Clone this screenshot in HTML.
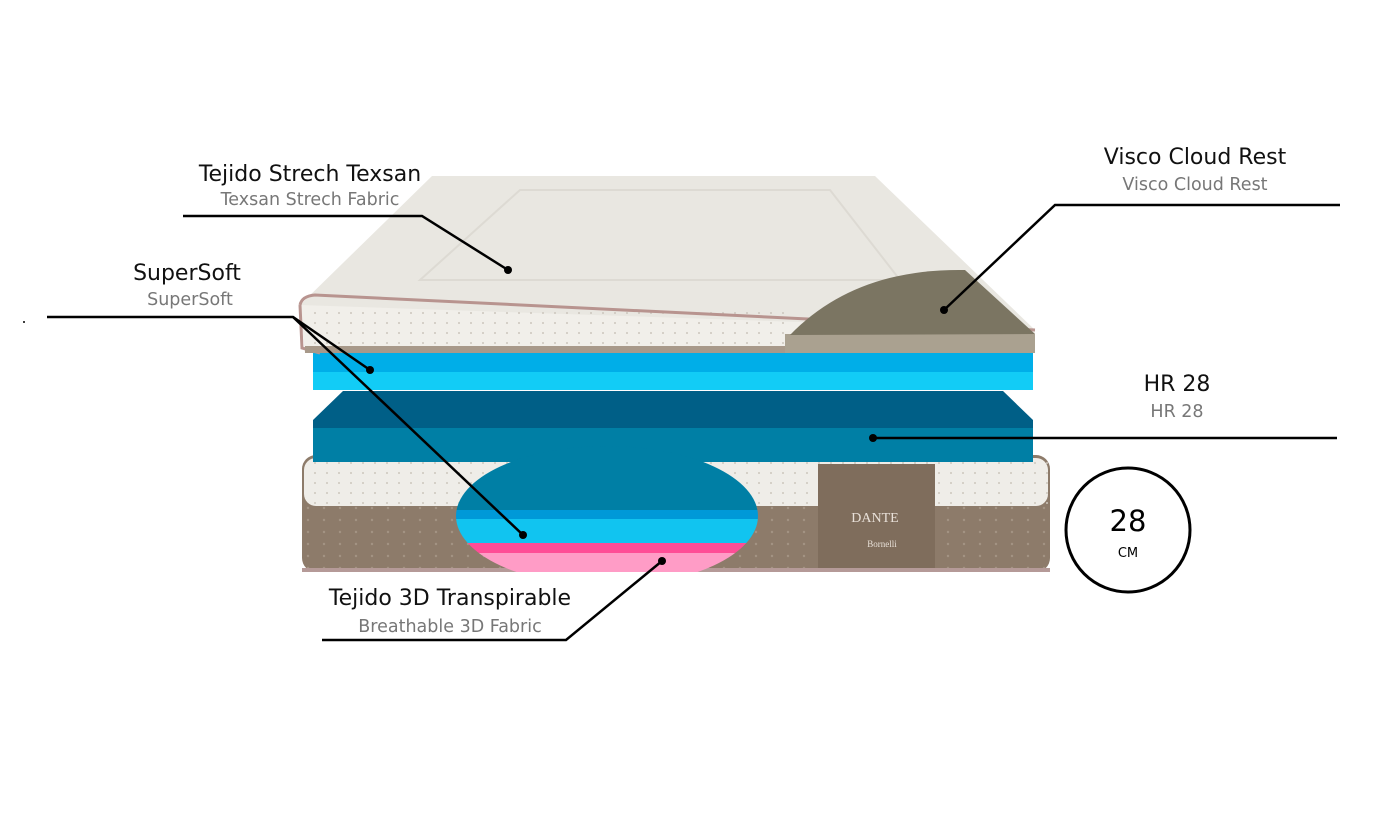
<!DOCTYPE html>
<html><head><meta charset="utf-8"><style>
html,body{margin:0;padding:0;background:#fff;}
svg{display:block}
text{font-family:"DejaVu Sans","Liberation Sans",sans-serif}
</style></head><body>
<svg width="1400" height="822" viewBox="0 0 1400 822" xmlns="http://www.w3.org/2000/svg">
<defs>
<clipPath id="rc"><rect x="440" y="440" width="330" height="132"/></clipPath>
<clipPath id="el"><ellipse cx="607" cy="516" rx="151" ry="70"/></clipPath>
<pattern id="dots" width="12" height="10" patternUnits="userSpaceOnUse"><circle cx="3" cy="3" r="1" fill="#ccc6bd"/></pattern>
<pattern id="bdots" width="16" height="12" patternUnits="userSpaceOnUse"><circle cx="4" cy="4" r="1.2" fill="#a39383"/></pattern>
</defs>
<rect width="1400" height="822" fill="#fff"/>
<rect x="302" y="455" width="748" height="117" rx="14" fill="#8d7b6a"/>
<rect x="302" y="505" width="748" height="65" fill="url(#bdots)"/>
<rect x="304" y="458" width="744" height="48" rx="12" fill="#efede8"/>
<rect x="304" y="458" width="744" height="48" fill="url(#dots)"/>
<rect x="302" y="568" width="748" height="4" fill="#b59a98"/>
<rect x="818" y="464" width="117" height="104" fill="#7f6d5c"/>
<text x="875" y="522" font-size="14" fill="#e8e0d8" text-anchor="middle" style="font-family:'Liberation Serif',serif">DANTE</text>
<text x="882" y="547" font-size="9" fill="#e8e0d8" text-anchor="middle" style="font-family:'Liberation Serif',serif">Bornelli</text>
<polygon points="343,391 1003,391 1033,420 1033,462 313,462 313,420" fill="#005f87"/>
<rect x="313" y="428" width="720" height="34" fill="#007fa5"/>
<g clip-path="url(#rc)"><g clip-path="url(#el)">
<rect x="450" y="440" width="320" height="70" fill="#007fa5"/>
<rect x="450" y="510" width="320" height="9" fill="#0099d8"/>
<rect x="450" y="519" width="320" height="24" fill="#11c4f0"/>
<rect x="450" y="543" width="320" height="10" fill="#ff4d96"/>
<rect x="450" y="553" width="320" height="30" fill="#ff9cc6"/>
</g></g>
<rect x="313" y="353" width="720" height="19" fill="#00aee8"/>
<rect x="313" y="372" width="720" height="18" fill="#12ccf6"/>
<polygon points="432,176 875,176 1035,330 1035,353 305,353 300,305" fill="#e9e7e1"/>
<polygon points="300,305 1035,330 1035,353 305,353" fill="#f1efea"/>
<rect x="305" y="312" width="480" height="38" fill="url(#dots)"/>
<path d="M300,305 Q302,296 315,295 L1035,330" fill="none" stroke="#b8948f" stroke-width="3"/>
<path d="M300,305 L302,348 L320,353" fill="none" stroke="#b8948f" stroke-width="3"/>
<rect x="305" y="346" width="730" height="7" fill="#a8998a"/>
<path d="M520,190 L830,190 L900,280 L420,280Z" fill="none" stroke="#dddad3" stroke-width="2"/>
<rect x="785" y="334" width="250" height="19" fill="#aaa190"/>
<path d="M790,335 Q855,268 965,270 L1035,334 Z" fill="#7b7562"/>
<g stroke="#000" stroke-width="2.5" fill="none">
<polyline points="183,216 422,216 508,270"/>
<polyline points="1340,205 1055,205 944,310"/>
<polyline points="47,317 293,317 370,370"/>
<polyline points="293,317 523,535"/>
<polyline points="1337,438 873,438"/>
<polyline points="322,640 566,640 662,561"/>
</g>
<g fill="#000">
<circle cx="508" cy="270" r="4"/><circle cx="944" cy="310" r="4"/><circle cx="370" cy="370" r="4"/>
<circle cx="523" cy="535" r="4"/><circle cx="873" cy="438" r="4"/><circle cx="662" cy="561" r="4"/>
<circle cx="24" cy="322" r="1"/>
</g>
<g font-size="22" fill="#111">
<text x="310" y="181" text-anchor="middle">Tejido Strech Texsan</text>
<text x="1195" y="164" text-anchor="middle">Visco Cloud Rest</text>
<text x="187" y="280" text-anchor="middle">SuperSoft</text>
<text x="1177" y="391" text-anchor="middle">HR 28</text>
<text x="450" y="605" text-anchor="middle">Tejido 3D Transpirable</text>
</g>
<g font-size="17.5" fill="#777">
<text x="310" y="205" text-anchor="middle">Texsan Strech Fabric</text>
<text x="1195" y="190" text-anchor="middle">Visco Cloud Rest</text>
<text x="190" y="305" text-anchor="middle">SuperSoft</text>
<text x="1177" y="417" text-anchor="middle">HR 28</text>
<text x="450" y="632" text-anchor="middle">Breathable 3D Fabric</text>
</g>
<circle cx="1128" cy="530" r="62" fill="#fff" stroke="#000" stroke-width="3"/>
<text x="1128" y="531" font-size="29" text-anchor="middle" fill="#000">28</text>
<text x="1128" y="557" font-size="13" text-anchor="middle" fill="#000">CM</text>
</svg>
</body></html>
